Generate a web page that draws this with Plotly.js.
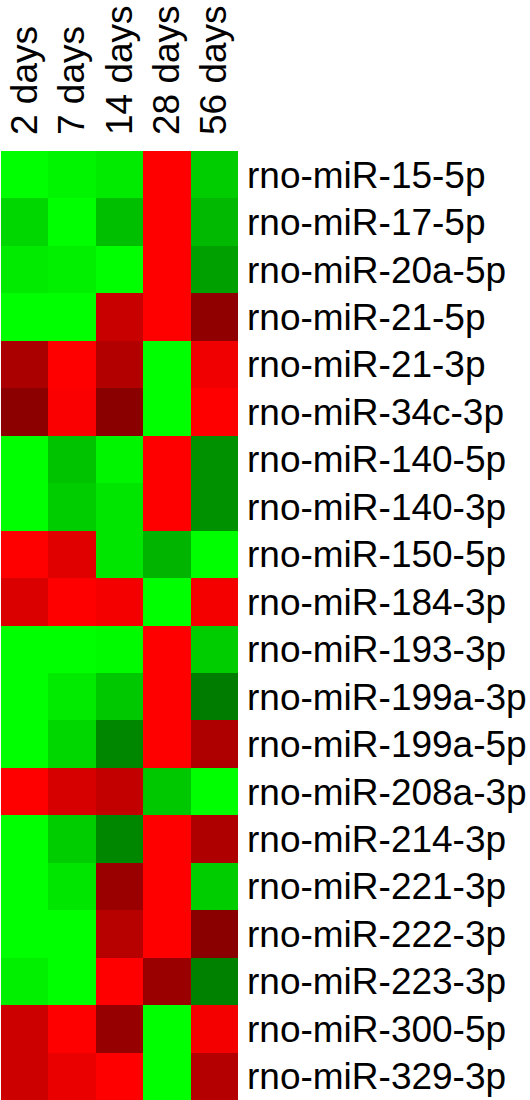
<!DOCTYPE html>
<html>
<head>
<meta charset="utf-8">
<script src="https://cdn.plot.ly/plotly-3.0.1.min.js"></script>
<style>html,body{margin:0;padding:0;background:#fff;}#chart{width:530px;height:1100px;}</style>
</head>
<body>
<div id="chart"></div>
<script>
// Time points (columns)
const timepoints = ["2 days", "7 days", "14 days", "28 days", "56 days"];
// miRNAs (rows, top to bottom)
const mirnas = [
  "rno-miR-15-5p", "rno-miR-17-5p", "rno-miR-20a-5p", "rno-miR-21-5p",
  "rno-miR-21-3p", "rno-miR-34c-3p", "rno-miR-140-5p", "rno-miR-140-3p",
  "rno-miR-150-5p", "rno-miR-184-3p", "rno-miR-193-3p", "rno-miR-199a-3p",
  "rno-miR-199a-5p", "rno-miR-208a-3p", "rno-miR-214-3p", "rno-miR-221-3p",
  "rno-miR-222-3p", "rno-miR-223-3p", "rno-miR-300-5p", "rno-miR-329-3p"
];
// Relative expression per miRNA (negative = green/down, positive = red/up)
const expr = [
  [-255, -245, -235,  255, -205],
  [-215, -255, -190,  255, -185],
  [-235, -240, -255,  255, -160],
  [-255, -255,  200,  255,  145],
  [ 170,  255,  178, -255,  240],
  [ 140,  250,  138, -255,  255],
  [-255, -195, -245,  255, -145],
  [-255, -205, -230,  255, -145],
  [ 255,  225, -230, -180, -255],
  [ 218,  255,  245, -255,  245],
  [-255, -255, -250,  255, -205],
  [-255, -235, -200,  255, -125],
  [-255, -215, -135,  255,  175],
  [ 255,  215,  195, -200, -255],
  [-255, -205, -135,  255,  175],
  [-255, -230,  155,  255, -205],
  [-255, -255,  183,  255,  138],
  [-240, -255,  255,  155, -130],
  [ 205,  255,  150, -255,  245],
  [ 205,  235,  255, -255,  180]
];

const trace = {
  type: "heatmap",
  x: timepoints,
  y: mirnas,
  z: expr,
  zmin: -255,
  zmax: 255,
  colorscale: [[0, "rgb(0,255,0)"], [0.5, "rgb(0,0,0)"], [1, "rgb(255,0,0)"]],
  showscale: false,
  hoverongaps: false
};

const layout = {
  width: 530,
  height: 1100,
  margin: {l: 1, r: 292, t: 151, b: 0, pad: 0},
  paper_bgcolor: "#ffffff",
  plot_bgcolor: "#ffffff",
  font: {family: "Liberation Sans, Arial, sans-serif", size: 37, color: "#000000"},
  xaxis: {
    side: "top",
    tickangle: -90,
    ticks: "",
    showgrid: false,
    zeroline: false,
    showline: false,
    tickfont: {size: 37, color: "#000"},
    ticklabelstandoff: 15
  },
  yaxis: {
    side: "right",
    autorange: "reversed",
    ticks: "",
    showgrid: false,
    zeroline: false,
    showline: false,
    tickfont: {size: 37, color: "#000"},
    ticklabelstandoff: 8
  }
};

Plotly.newPlot("chart", [trace], layout, {displayModeBar: false, staticPlot: true});
</script>
</body>
</html>
